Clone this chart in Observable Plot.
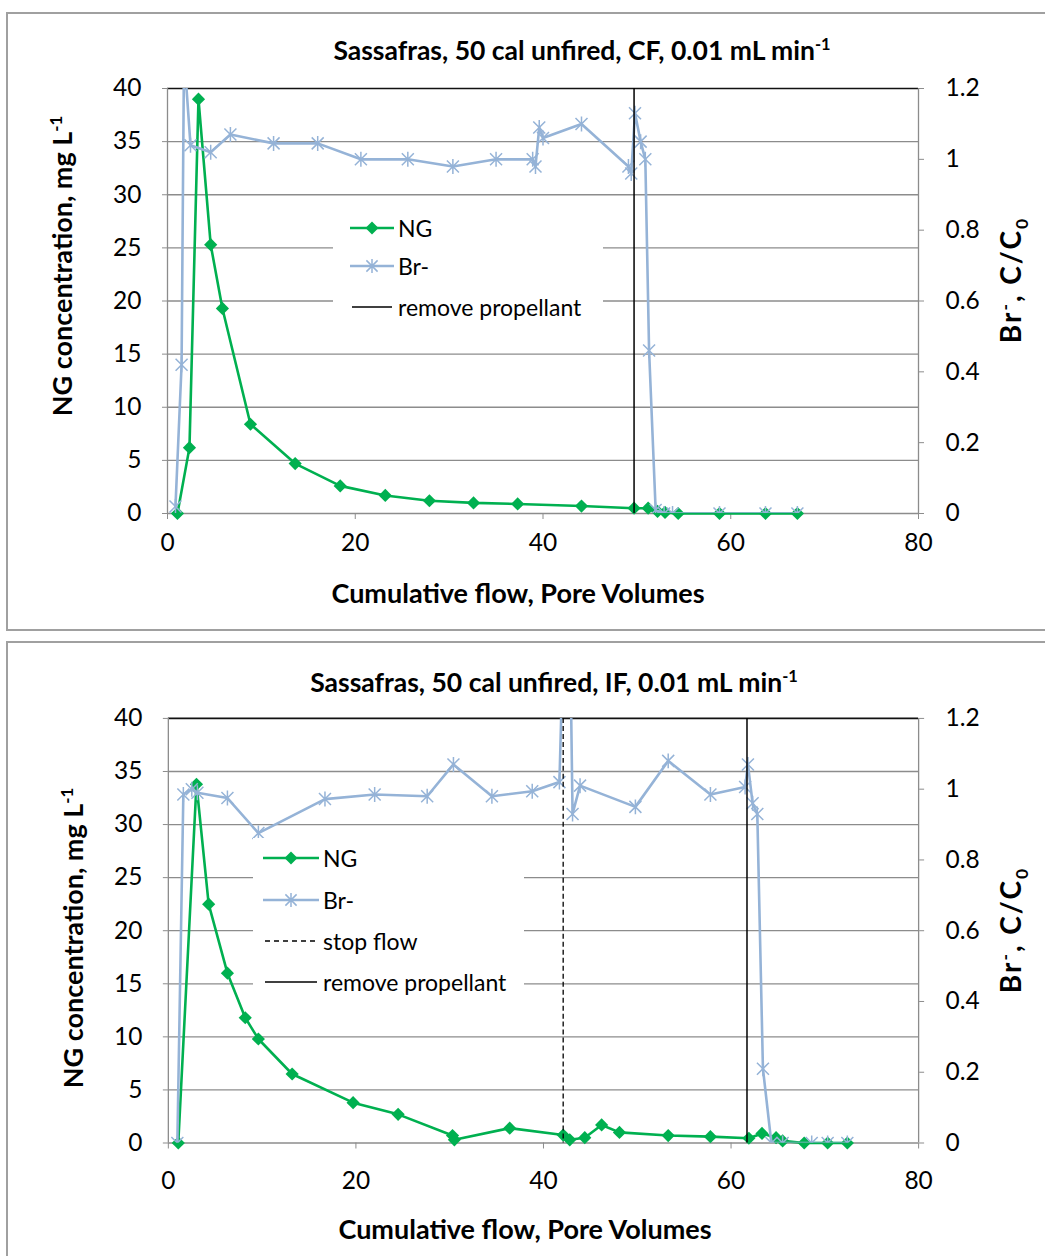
<!DOCTYPE html>
<html><head><meta charset="utf-8">
<script src="https://cdn.jsdelivr.net/npm/d3@7"></script>
<script src="https://cdn.jsdelivr.net/npm/@observablehq/plot@0.6"></script>
<style>
html,body{margin:0;padding:0;background:#fff;}
#page{position:relative;width:1045px;height:1256px;overflow:hidden;font-family:Lato,"Open Sans",sans-serif;color:#000;}
.panel{position:absolute;left:6px;width:1200px;border:2px solid #a0a0a0;box-sizing:border-box;}
.abs{position:absolute;white-space:nowrap;}
.title{font-weight:bold;font-size:26.5px;transform:translate(-50%,-50%);}
.xt{font-weight:bold;font-size:27px;transform:translate(-50%,-50%);}
.yt{font-weight:bold;font-size:27px;transform:translate(-50%,-50%) rotate(-90deg);}
.yr{font-weight:bold;font-size:28px;letter-spacing:2px;transform:translate(-50%,-50%) rotate(-90deg);}
sup,sub{font-size:62%;line-height:0;}
.legend{position:absolute;background:#fff;font-size:23px;}
.legend .row{position:absolute;left:0;height:30px;display:flex;align-items:center;transform:translateY(-50%);}
.legend svg{display:block;}
.plotwrap{position:absolute;left:0;}
</style></head>
<body><div id="page"></div>
<script>
// ---- data: top chart (CF) ----
const ngX_CF = [1.06, 2.34, 3.3, 4.6, 5.85, 8.84, 13.6, 18.4, 23.2, 27.9, 32.6, 37.3, 44.1, 49.7, 51.2, 52.2, 53.0, 54.4, 58.8, 63.7, 67.1];
const ngY_CF = [0, 6.2, 39, 25.3, 19.3, 8.4, 4.7, 2.6, 1.7, 1.2, 1.0, 0.9, 0.7, 0.5, 0.5, 0.2, 0.1, 0, 0, 0, 0];
const brX_CF = [0.85, 1.5, 1.76, 2.45, 4.6, 6.7, 11.3, 16.0, 20.6, 25.6, 30.4, 35.0, 38.9, 39.2, 39.6, 40.0, 44.1, 49.1, 49.4, 49.8, 50.4, 50.9, 51.3, 52.0, 52.9, 53.8, 58.8, 63.7, 67.1];
const brY_CF = [0.02, 0.42, 1.3, 1.04, 1.02, 1.07, 1.045, 1.045, 1.0, 1.0, 0.98, 1.0, 1.0, 0.98, 1.09, 1.06, 1.10, 0.98, 0.96, 1.13, 1.05, 1.0, 0.46, 0.01, 0, 0, 0, 0, 0];
const removeX_CF = [49.7];

// ---- data: bottom chart (IF) ----
const ngX_IF = [1.06, 3.0, 4.3, 6.3, 8.2, 9.6, 13.2, 19.7, 24.5, 30.3, 30.5, 36.4, 42.1, 42.8, 44.4, 46.2, 48.1, 53.3, 57.8, 61.9, 63.3, 64.8, 65.5, 67.8, 70.3, 72.4];
const ngY_IF = [0, 33.8, 22.5, 16.0, 11.8, 9.8, 6.5, 3.8, 2.7, 0.7, 0.3, 1.4, 0.75, 0.3, 0.5, 1.7, 1.0, 0.7, 0.6, 0.45, 0.9, 0.5, 0.2, 0, 0, 0];
const brX_IF = [0.96, 1.6, 2.5, 3.1, 6.3, 9.6, 16.7, 22.0, 27.6, 30.4, 34.5, 38.8, 41.7, 42.6, 43.1, 43.9, 49.8, 53.3, 57.8, 61.5, 61.8, 62.3, 62.8, 63.4, 64.3, 65.5, 68.6, 70.3, 72.4];
const brY_IF = [0, 0.985, 1.0, 0.99, 0.975, 0.876, 0.972, 0.985, 0.98, 1.07, 0.98, 0.994, 1.02, 1.9, 0.93, 1.01, 0.95, 1.08, 0.985, 1.006, 1.07, 0.96, 0.93, 0.21, 0, 0, 0, 0, 0];
const removeX_IF = [61.7];
const stopX_IF = [42.1];

// ---- axes ----
const xTicks = [0, 20, 40, 60, 80];
const leftTicks = [0, 5, 10, 15, 20, 25, 30, 35, 40];
const rightTicks = [0, 0.2, 0.4, 0.6, 0.8, 1, 1.2];

const GREEN = "#00B050", BLUE = "#95B3D7", GRID = "#8c8c8c";
const K = 40 / 1.2; // right-axis (C/C0) to left-axis scale factor

const diamond = {draw(ctx, size){ const r = Math.sqrt(size/Math.PI)*1.1; ctx.moveTo(0,-r); ctx.lineTo(r,0); ctx.lineTo(0,r); ctx.lineTo(-r,0); ctx.closePath(); }};
const asterisk = {draw(ctx, size){ const r = Math.sqrt(size/Math.PI); const d = r*0.8; ctx.moveTo(-d,-d); ctx.lineTo(d,d); ctx.moveTo(-d,d); ctx.lineTo(d,-d); ctx.moveTo(0,-r); ctx.lineTo(0,r); }};

function chart(ngX, ngY, brX, brY, removeX, stopX, xPad) {
  const ng = ngX.map((x, i) => ({x, y: ngY[i]}));
  const br = brX.map((x, i) => ({x, c: brY[i]}));
  return Plot.plot({
    width: 1045, height: 600,
    marginLeft: 167, marginRight: 127, marginTop: 88, marginBottom: 87,
    x: {domain: [0, 80]},
    y: {domain: [0, 40]},
    style: {fontFamily: "Lato, 'Open Sans', sans-serif", fontSize: "24.5px", color: "#000", background: "transparent", overflow: "visible"},
    marks: [
      Plot.gridY(leftTicks.slice(1, -1), {stroke: GRID, strokeOpacity: 1, strokeWidth: 1.3}),
      Plot.ruleY([0], {stroke: GRID, strokeWidth: 1.3}),
      Plot.ruleY([40], {stroke: "#111", strokeWidth: 1.6}),
      Plot.ruleX([0], {stroke: GRID, strokeWidth: 1.3}),
      Plot.ruleX([80], {stroke: GRID, strokeWidth: 1.3}),
      Plot.axisY(leftTicks, {anchor: "left", tickSize: 5, tickPadding: 21, stroke: GRID, label: null}),
      Plot.axisY(rightTicks.map(v => v * K), {anchor: "right", tickSize: 5, tickPadding: 22, stroke: GRID, label: null,
        tickFormat: d => String(Math.round(d / K * 10) / 10)}),
      Plot.axisX(xTicks, {anchor: "bottom", tickSize: 6, tickPadding: xPad, stroke: GRID, label: null}),
      Plot.line(ng, {x: "x", y: "y", stroke: GREEN, strokeWidth: 2.6}),
      Plot.dot(ng, {x: "x", y: "y", symbol: diamond, r: 6, fill: GREEN, stroke: "none"}),
      Plot.line(br, {x: "x", y: d => d.c * K, stroke: BLUE, strokeWidth: 2.6, clip: true}),
      Plot.dot(br, {x: "x", y: d => d.c * K, symbol: asterisk, r: 7.5, fill: "none", stroke: BLUE, strokeWidth: 1.5, clip: true}),
      stopX ? Plot.ruleX(stopX, {stroke: "#000", strokeWidth: 1.3, strokeDasharray: "5,3"}) : null,
      Plot.ruleX(removeX, {stroke: "#000", strokeWidth: 1.5})
    ]
  });
}

const page = document.getElementById("page");
function add(html) { page.insertAdjacentHTML("beforeend", html); }

// panels
add(`<div class="panel" style="top:12px;height:619px;"></div>`);
add(`<div class="panel" style="top:641px;height:640px;"></div>`);

// charts
const w1 = document.createElement("div"); w1.className = "plotwrap"; w1.style.top = "0px";
w1.appendChild(chart(ngX_CF, ngY_CF, brX_CF, brY_CF, removeX_CF, null, 14)); page.appendChild(w1);
const w2 = document.createElement("div"); w2.className = "plotwrap"; w2.style.top = "630px"; w2.style.left = "1px";
w2.appendChild(chart(ngX_IF, ngY_IF, brX_IF, brY_IF, removeX_IF, stopX_IF, 23)); page.appendChild(w2);

// texts
add(`<div class="abs title" style="left:582px;top:50px;">Sassafras, 50 cal unfired, CF, 0.01 mL min<sup>-1</sup></div>`);
add(`<div class="abs xt" style="left:518px;top:592px;">Cumulative flow, Pore Volumes</div>`);
add(`<div class="abs yt" style="left:61px;top:266px;">NG concentration, mg L<sup>-1</sup></div>`);
add(`<div class="abs yr" style="left:1010px;top:280px;">Br<sup>-</sup>, C/C<sub>0</sub></div>`);

add(`<div class="abs title" style="left:554px;top:682px;">Sassafras, 50 cal unfired, IF, 0.01 mL min<sup>-1</sup></div>`);
add(`<div class="abs xt" style="left:525px;top:1228px;">Cumulative flow, Pore Volumes</div>`);
add(`<div class="abs yt" style="left:72px;top:938px;">NG concentration, mg L<sup>-1</sup></div>`);
add(`<div class="abs yr" style="left:1010px;top:930px;">Br<sup>-</sup>, C/C<sub>0</sub></div>`);

// legends
function sym(kind, w) {
  const m = w / 2;
  if (kind === "ng") return `<svg width="${w}" height="16"><line x1="0" y1="8" x2="${w}" y2="8" stroke="${GREEN}" stroke-width="2.6"/><path d="M${m},1.5L${m+6.5},8L${m},14.5L${m-6.5},8Z" fill="${GREEN}"/></svg>`;
  if (kind === "br") return `<svg width="${w}" height="16"><line x1="0" y1="8" x2="${w}" y2="8" stroke="${BLUE}" stroke-width="2.6"/><path d="M${m-5.6},2.4L${m+5.6},13.6M${m-5.6},13.6L${m+5.6},2.4M${m},1L${m},15" stroke="${BLUE}" stroke-width="1.5" fill="none"/></svg>`;
  if (kind === "stop") return `<svg width="${w}" height="16"><line x1="2" y1="8" x2="${w-2}" y2="8" stroke="#000" stroke-width="1.3" stroke-dasharray="5,4"/></svg>`;
  return `<svg width="${w}" height="16"><line x1="2" y1="8" x2="${w-2}" y2="8" stroke="#000" stroke-width="1.5"/></svg>`;
}
function legend(left, top, width, height, symLeft, symW, rows) {
  let h = `<div class="legend" style="left:${left}px;top:${top}px;width:${width}px;height:${height}px;">`;
  for (const [kind, label, y] of rows) {
    h += `<div class="row" style="left:${symLeft - left}px;top:${y - top}px;">${sym(kind, symW)}<span style="margin-left:4px;">${label}</span></div>`;
  }
  return h + `</div>`;
}
add(legend(333, 205, 270, 125, 350, 44, [["ng", "NG", 228], ["br", "Br-", 266], ["remove", "remove propellant", 307]]));
add(legend(253, 838, 271, 165, 263, 56, [["ng", "NG", 858], ["br", "Br-", 900], ["stop", "stop flow", 941], ["remove", "remove propellant", 982]]));
</script>
</body></html>
